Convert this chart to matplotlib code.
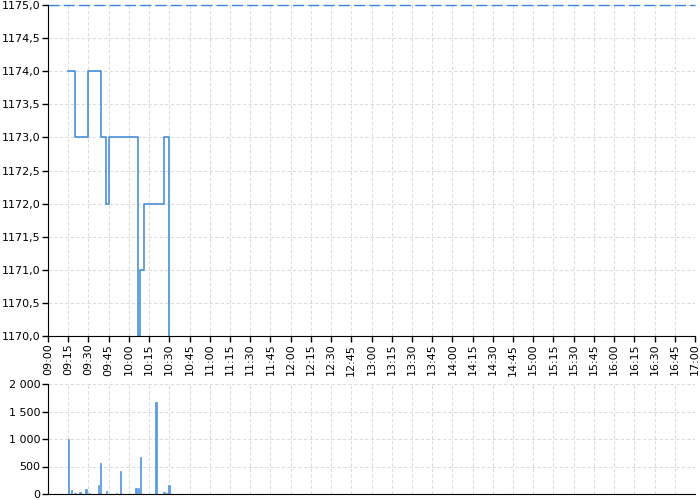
import matplotlib
matplotlib.use('Agg')
import matplotlib.pyplot as plt
from matplotlib.ticker import FuncFormatter

# price steps (time, price) - value holds until next time
price_times = ['09:15', '09:20', '09:30', '09:39', '09:43', '09:45', '10:07', '10:08.5', '10:11', '10:26', '10:30']
price_values = [1174, 1173, 1174, 1173, 1172, 1173, 1170, 1171, 1172, 1173, 1170]

# volume bars
vol_times = ['09:15', '09:17.3', '09:20', '09:23.7', '09:28.2', '09:31', '09:37.6', '09:39', '09:43.3',
             '09:50.7', '09:54', '10:05.3', '10:07.3', '10:08.5', '10:20', '10:26', '10:27.8', '10:29.8']
vol_values = [1000, 70, 15, 35, 85, 15, 155, 565, 60, 15, 415, 110, 110, 680, 1670, 35, 20, 170]

ref_level = 1175.0
tick_labels = ['%02d:%02d' % (9 + m // 60, m % 60) for m in range(0, 481, 15)]


def to_min(s):
    h, m = s.split(':')
    return (int(h) - 9) * 60 + float(m)


px = [to_min(t) for t in price_times]
vx = [to_min(t) for t in vol_times]

blue = '#3a86d6'
grid_kw = dict(color='#dcdcdc', linestyle=(0, (3, 2)), linewidth=0.8)

fig = plt.figure(figsize=(7, 5), dpi=100)
ax = fig.add_axes([48 / 700, 164 / 500, 647 / 700, 331 / 500])
ax2 = fig.add_axes([48 / 700, 6 / 500, 647 / 700, 110 / 500])

ax.step(px, price_values, where='post', color=blue, linewidth=1.1)
ax.axhline(ref_level, color=blue, linestyle=(0, (8, 3)), linewidth=1.0, clip_on=False)
ax.set_xlim(0, 480)
ax.set_ylim(1170, 1175)
ax.set_xticks(range(0, 481, 15))
ax.set_xticklabels(tick_labels, rotation=90)
ax.set_yticks([1170 + 0.5 * i for i in range(11)])
ax.yaxis.set_major_formatter(FuncFormatter(lambda v, p: ('%.1f' % v).replace('.', ',')))
ax.grid(True, **grid_kw)

ax2.bar(vx, vol_values, width=1.0, color='#5b9be0', edgecolor=blue, linewidth=0.4)
ax2.set_xlim(0, 480)
ax2.set_ylim(0, 2000)
ax2.set_xticks(range(0, 481, 15))
ax2.set_xticklabels([])
ax2.tick_params(axis='x', length=0)
ax2.set_yticks([0, 500, 1000, 1500, 2000])
ax2.yaxis.set_major_formatter(FuncFormatter(lambda v, p: '{:,.0f}'.format(v).replace(',', ' ')))
ax2.grid(True, **grid_kw)

for a in (ax, ax2):
    a.spines['top'].set_visible(False)
    a.spines['right'].set_visible(False)
    a.set_axisbelow(True)
    a.tick_params(labelsize=8, width=1, pad=1.5)
    a.tick_params(axis='y', length=4)
ax.tick_params(axis='x', length=4)

fig.savefig('out.png', dpi=100)
